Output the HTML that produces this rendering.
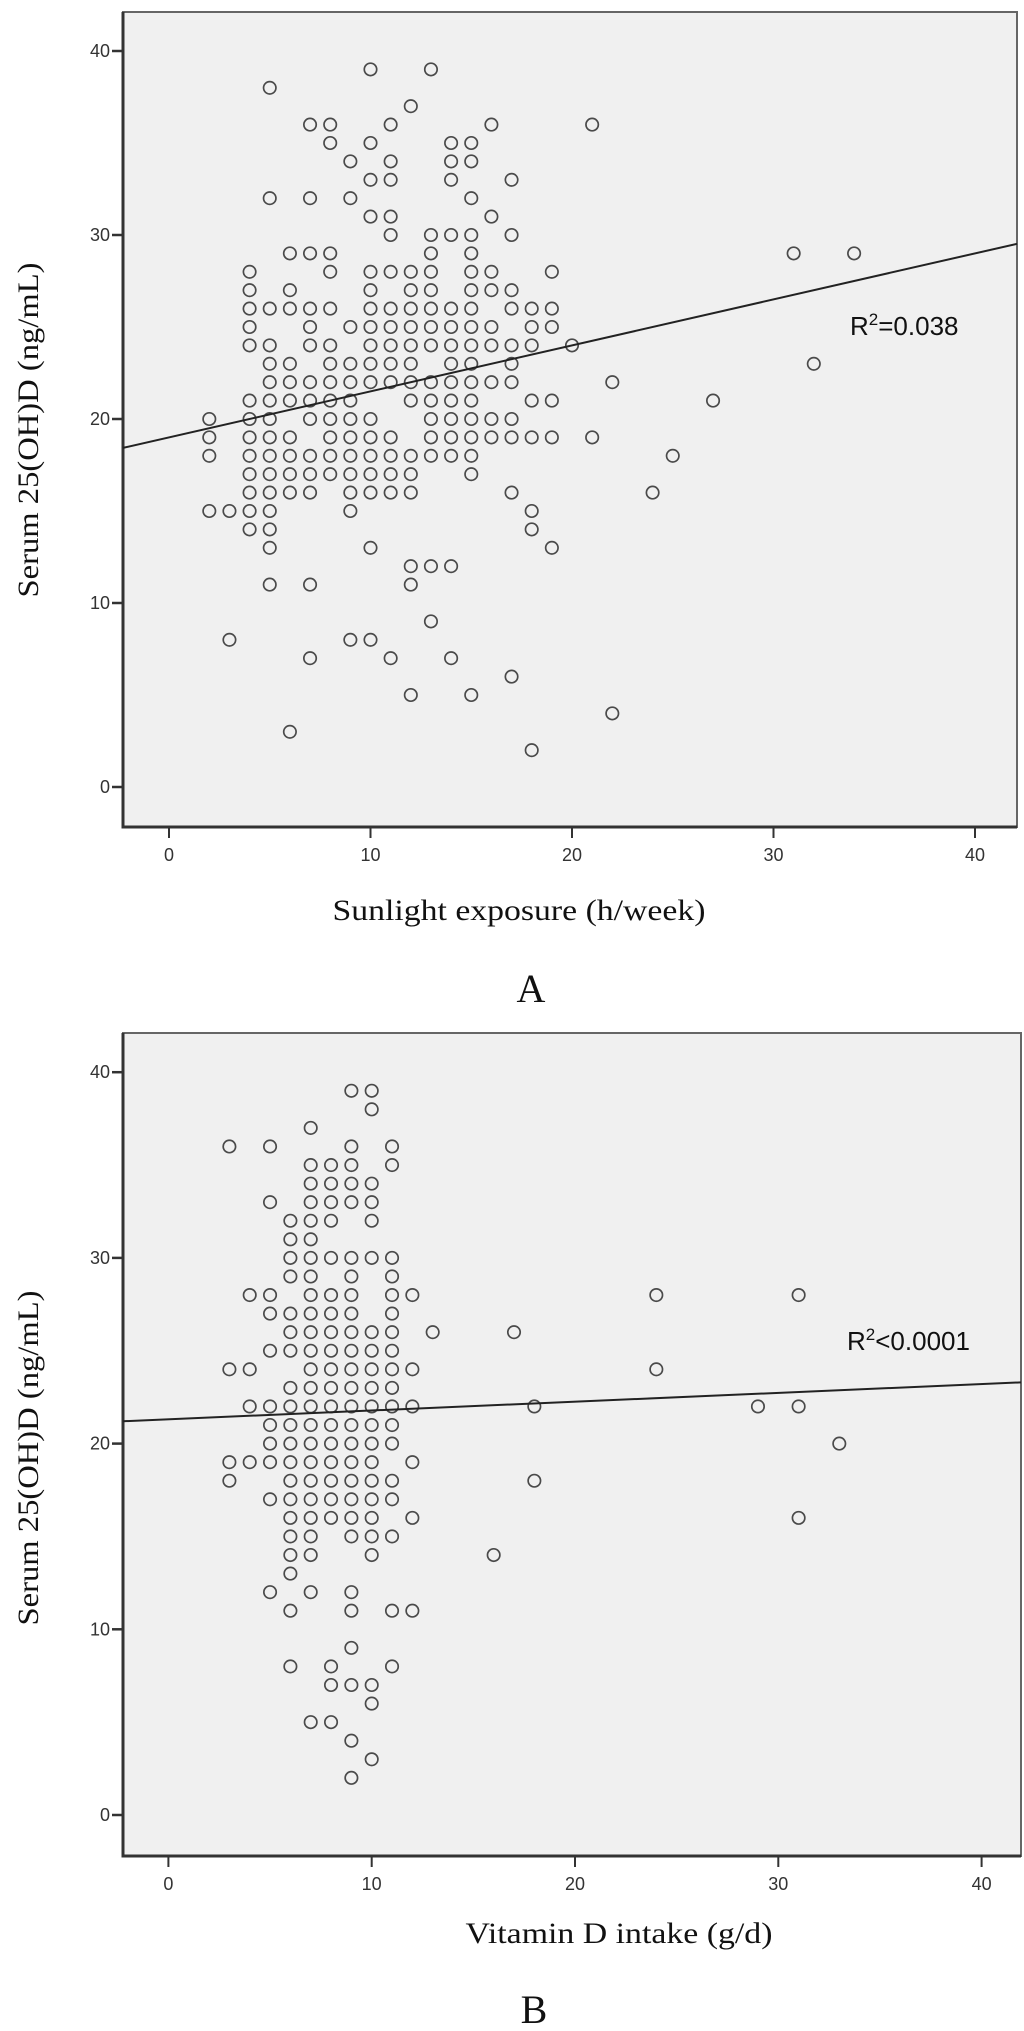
<!DOCTYPE html>
<html><head><meta charset="utf-8"><style>
html,body{margin:0;padding:0;background:#fff;}
svg{display:block;}
.tk{font-family:"Liberation Sans Narrow","Liberation Sans",sans-serif;font-size:18px;fill:#333;}
.ttl{font-family:"Liberation Serif",serif;fill:#111;}
.r2{font-family:"Liberation Sans",sans-serif;font-size:26px;fill:#111;}
</style></head><body>
<svg id="fig" width="1024" height="2031" viewBox="0 0 1024 2031" xmlns="http://www.w3.org/2000/svg">
<g id="plotA"></g>
<g id="plotB"></g>
</svg>
<script>
// Chart A data: rows of [serum value, sunlight hours list]
const sunRows = [
[39,[10,13]],[38,[5]],[37,[12]],[36,[7,8,11,16,21]],[35,[8,10,14,15]],[34,[9,11,14,15]],
[33,[10,11,14,17]],[32,[5,7,9,15]],[31,[10,11,16]],[30,[11,13,14,15,17]],[29,[6,7,8,13,15,31,34]],
[28,[4,8,10,11,12,13,15,16,19]],[27,[4,6,10,12,13,15,16,17]],
[26,[4,5,6,7,8,10,11,12,13,14,15,17,18,19]],[25,[4,7,9,10,11,12,13,14,15,16,18,19]],
[24,[4,5,7,8,10,11,12,13,14,15,16,17,18,20]],[23,[5,6,8,9,10,11,12,14,15,17,32]],
[22,[5,6,7,8,9,10,11,12,13,14,15,16,17,22]],[21,[4,5,6,7,8,9,12,13,14,15,18,19,27]],
[20,[2,4,5,7,8,9,10,13,14,15,16,17]],[19,[2,4,5,6,8,9,10,11,13,14,15,16,17,18,19,21]],
[18,[2,4,5,6,7,8,9,10,11,12,13,14,15,25]],[17,[4,5,6,7,8,9,10,11,12,15]],
[16,[4,5,6,7,9,10,11,12,17,24]],[15,[2,3,4,5,9,18]],[14,[4,5,18]],[13,[5,10,19]],
[12,[12,13,14]],[11,[5,7,12]],[9,[13]],[8,[3,9,10]],[7,[7,11,14]],[6,[17]],[5,[12,15]],
[4,[22]],[3,[6]],[2,[18]]
];
const sunFit = [19.0, 0.25]; // intercept, slope
// Chart B data
const vitRows = [
[39,[9,10]],[38,[10]],[37,[7]],[36,[3,5,9,11]],[35,[7,8,9,11]],[34,[7,8,9,10]],[33,[5,7,8,9,10]],
[32,[6,7,8,10]],[31,[6,7]],[30,[6,7,8,9,10,11]],[29,[6,7,9,11]],[28,[4,5,7,8,9,11,12,24,31]],
[27,[5,6,7,8,9,11]],[26,[6,7,8,9,10,11,13,17]],[25,[5,6,7,8,9,10,11]],
[24,[3,4,7,8,9,10,11,12,24]],[23,[6,7,8,9,10,11]],[22,[4,5,6,7,8,9,10,11,12,18,29,31]],
[21,[5,6,7,8,9,10,11]],[20,[5,6,7,8,9,10,11,33]],[19,[3,4,5,6,7,8,9,10,12]],
[18,[3,6,7,8,9,10,11,18]],[17,[5,6,7,8,9,10,11]],[16,[6,7,8,9,10,12,31]],[15,[6,7,9,10,11]],
[14,[6,7,10,16]],[13,[6]],[12,[5,7,9]],[11,[6,9,11,12]],[9,[9]],[8,[6,8,11]],[7,[8,9,10]],
[6,[10]],[5,[7,8]],[4,[9]],[3,[10]],[2,[9]]
];
const vitFit = [21.31, 0.0474];
const xTicks = [0,10,20,30,40];
const yTicks = [0,10,20,30,40];

const NS = "http://www.w3.org/2000/svg";
function mk(tag, attrs, parent){const e=document.createElementNS(NS,tag);for(const k in attrs)e.setAttribute(k,attrs[k]);parent.appendChild(e);return e;}

function draw(g, cfg, rows, fit, name){
  const sx = v => cfg.x0 + v*cfg.xs;
  const sy = v => cfg.y0 - v*cfg.ys;
  const bg = mk('rect',{x:cfg.L,y:cfg.T,width:cfg.R-cfg.L,height:cfg.B-cfg.T,fill:'#f0f0f0',stroke:'#666','stroke-width':2},g);
  
  
  const ax = mk('path',{d:`M${cfg.L} ${cfg.T} V${cfg.B} H${cfg.R}`,fill:'none',stroke:'#333','stroke-width':3},g);
  
  
  yTicks.forEach(t=>{
    mk('line',{x1:cfg.L-11,x2:cfg.L,y1:sy(t),y2:sy(t),stroke:'#333','stroke-width':2.5},g);
    const tx = mk('text',{x:cfg.L-13,y:sy(t)+6,'text-anchor':'end',class:'tk'},g);
    
    
    tx.textContent=t;
  });
  xTicks.forEach(t=>{
    mk('line',{x1:sx(t),x2:sx(t),y1:cfg.B,y2:cfg.B+11,stroke:'#333','stroke-width':2},g);
    const tx = mk('text',{x:sx(t),y:cfg.B+34,'text-anchor':'middle',class:'tk'},g);
    
    
    tx.textContent=t;
  });
  const pts = mk('g',{},g);
  
  
  rows.forEach(r=>{
    r[1].forEach(xv=>{
      const c = mk('circle',{cx:sx(xv),cy:sy(r[0]),r:6.2,fill:'none',stroke:'#4a4a4a','stroke-width':1.7},pts);
      
      
    });
  });
  const xa = (cfg.L - cfg.x0)/cfg.xs, xb = (cfg.R - cfg.x0)/cfg.xs;
  const ln = mk('line',{x1:sx(xa),y1:sy(fit[0]+fit[1]*xa),x2:sx(xb),y2:sy(fit[0]+fit[1]*xb),stroke:'#222','stroke-width':2},g);
  
  
}

const cfgA = {L:123,T:12,R:1017,B:827,x0:169,xs:20.15,y0:787,ys:18.4};
const cfgB = {L:123,T:1033,R:1021,B:1856,x0:168.4,xs:20.33,y0:1815,ys:18.57};
const gA = document.getElementById('plotA');
const gB = document.getElementById('plotB');
draw(gA,cfgA,sunRows,sunFit,'A');
draw(gB,cfgB,vitRows,vitFit,'B');

function label(g,attrs,txt,name,cls){
  const t = mk('text',attrs,g);
  t.setAttribute('class',cls);
  
  
  t.textContent = txt;
  return t;
}
// R2 labels
let r = label(gA,{x:850,y:335},'','r-squared-label-a','r2');
r.innerHTML='R<tspan dy="-10" font-size="17">2</tspan><tspan dy="10">=0.038</tspan>';
r = label(gB,{x:847,y:1350},'','r-squared-label-b','r2');
r.innerHTML='R<tspan dy="-10" font-size="17">2</tspan><tspan dy="10">&lt;0.0001</tspan>';
// axis titles
label(gA,{x:519,y:920,'text-anchor':'middle','font-size':30,textLength:373,lengthAdjust:'spacingAndGlyphs'},'Sunlight exposure (h/week)','x-axis-title-a','ttl');
label(gA,{x:531,y:1002,'text-anchor':'middle','font-size':40},'A','panel-label-a','ttl');
label(gA,{x:0,y:0,'text-anchor':'middle','font-size':30,textLength:335,lengthAdjust:'spacingAndGlyphs',transform:'translate(38,430) rotate(-90)'},'Serum 25(OH)D (ng/mL)','y-axis-title-a','ttl');
label(gB,{x:619,y:1943,'text-anchor':'middle','font-size':30,textLength:307,lengthAdjust:'spacingAndGlyphs'},'Vitamin D intake (g/d)','x-axis-title-b','ttl');
label(gB,{x:534,y:2023,'text-anchor':'middle','font-size':40},'B','panel-label-b','ttl');
label(gB,{x:0,y:0,'text-anchor':'middle','font-size':30,textLength:335,lengthAdjust:'spacingAndGlyphs',transform:'translate(38,1458) rotate(-90)'},'Serum 25(OH)D (ng/mL)','y-axis-title-b','ttl');
</script>
</body></html>
